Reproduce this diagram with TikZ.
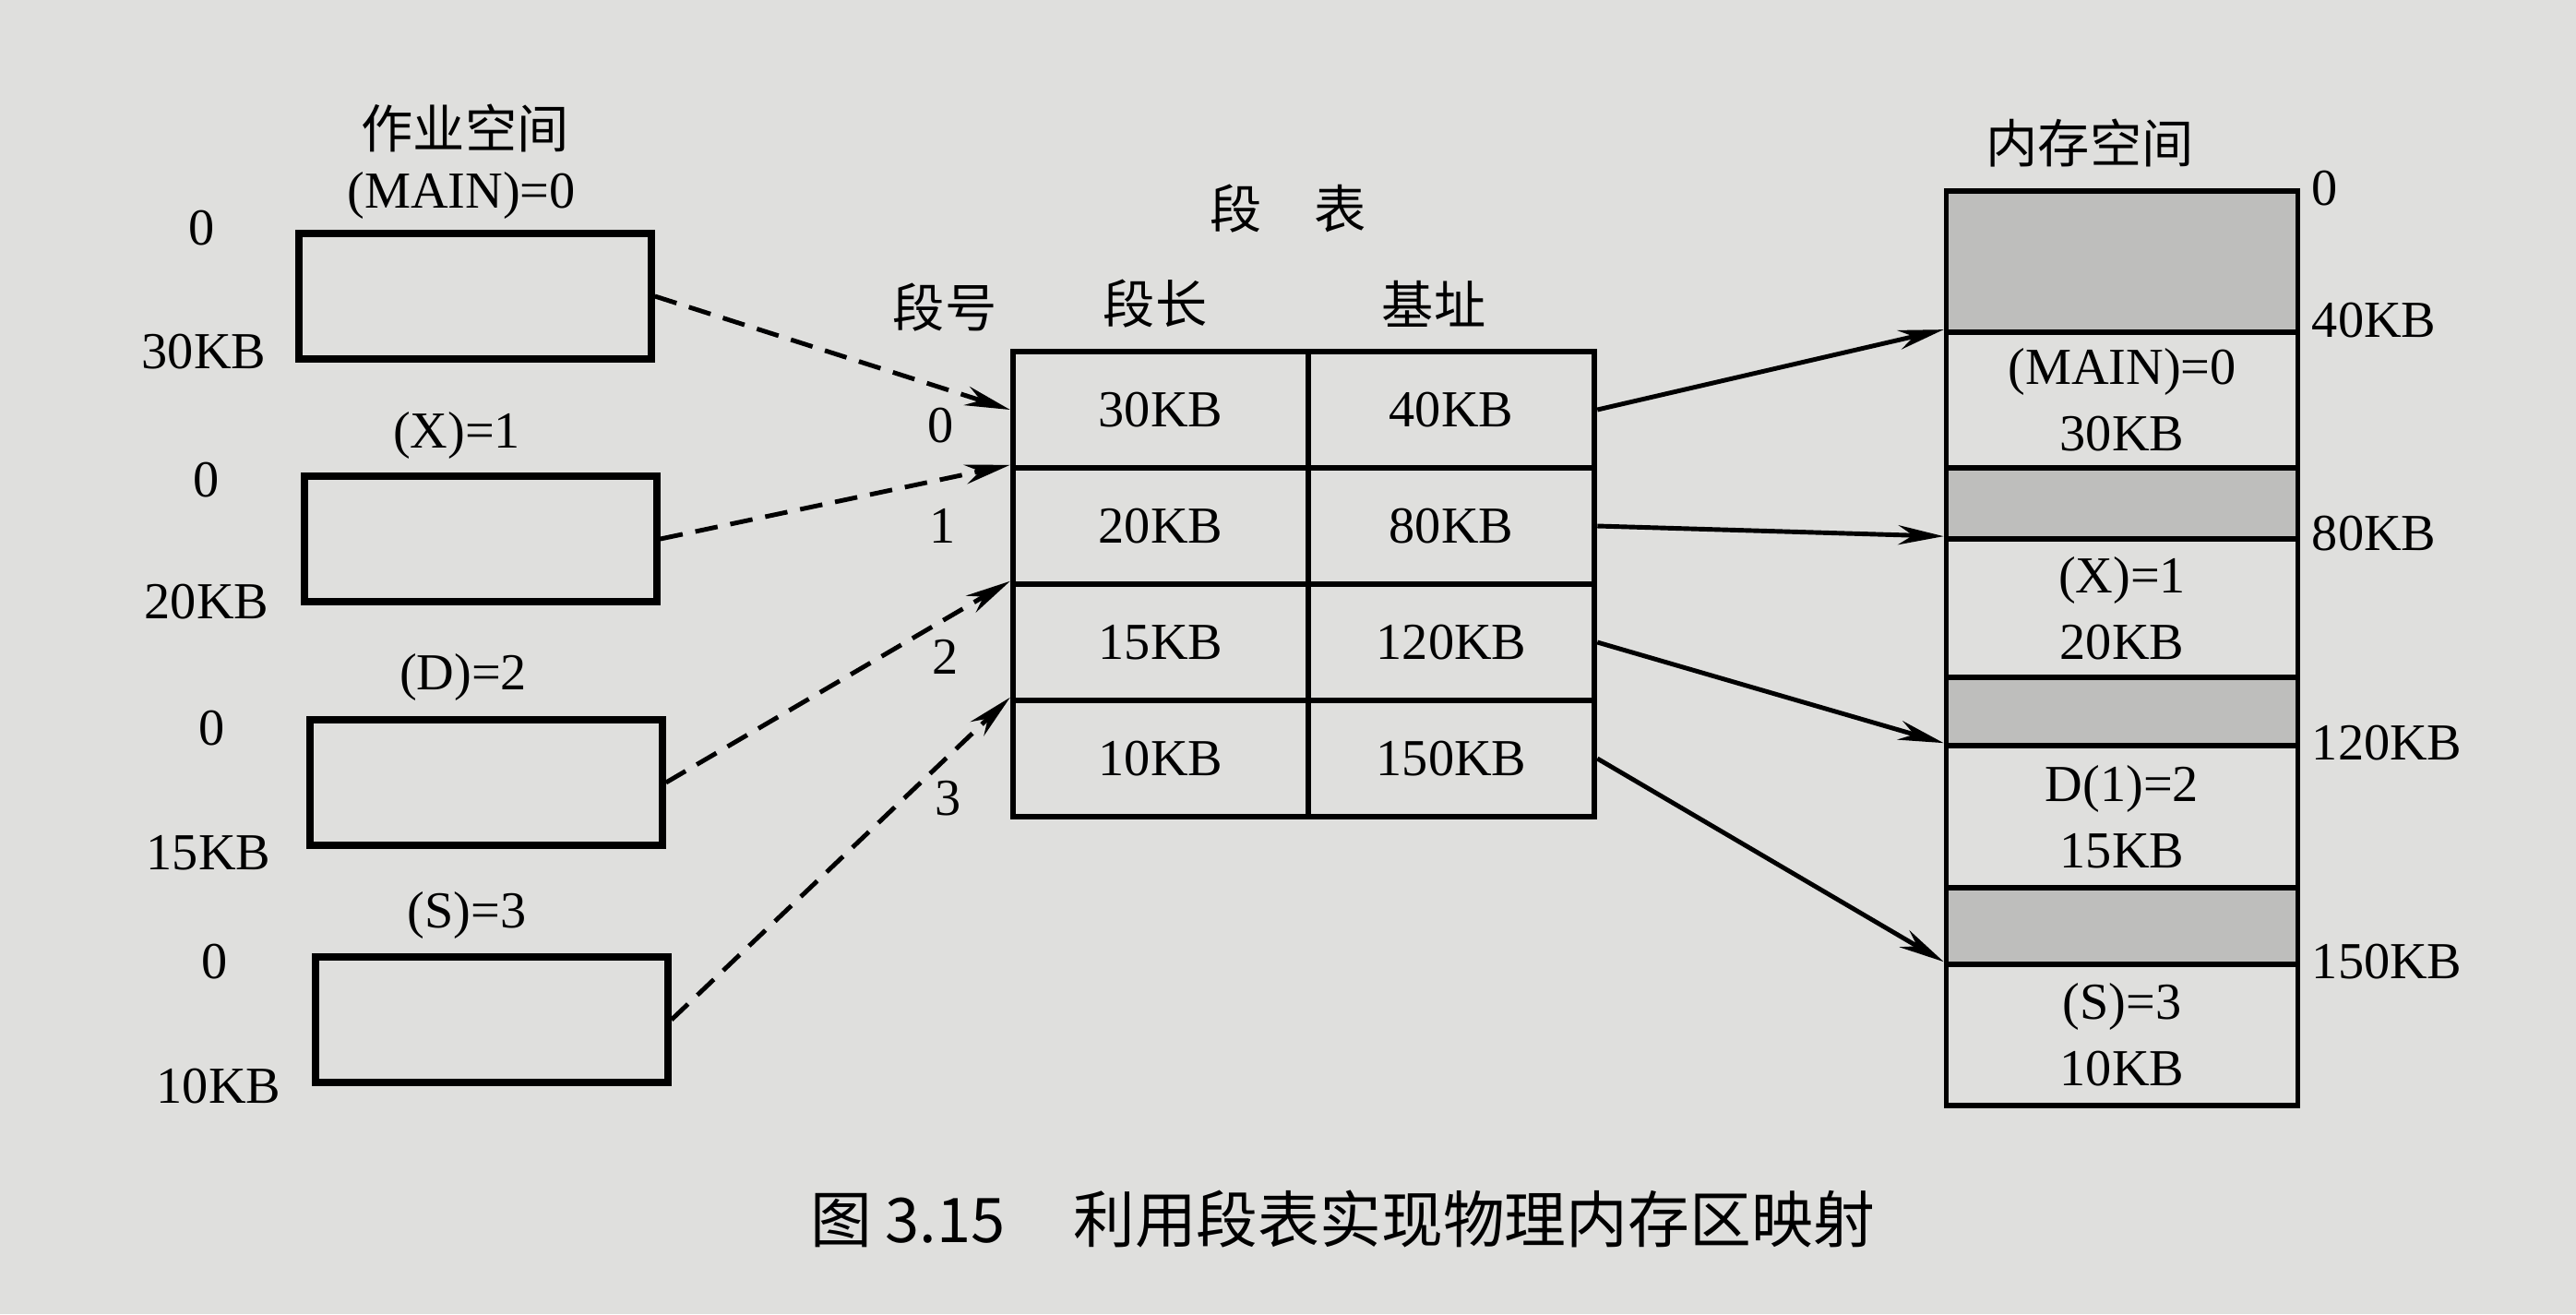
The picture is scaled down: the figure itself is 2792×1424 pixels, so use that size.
\documentclass[tikz,border=0pt]{standalone}
\usepackage{fontspec}
\setmainfont{Liberation Serif}
\newfontfamily\cjk{Noto Sans CJK SC}
\usetikzlibrary{arrows.meta}
\definecolor{paper}{RGB}{223,223,221}
\definecolor{hole}{RGB}{190,190,188}
\tikzstyle{latin}=[font=\fontsize{16}{18}\selectfont]
\tikzstyle{hanzi}=[font=\cjk\fontsize{16}{18}\selectfont]
\tikzstyle{job box}=[draw, line width=2.1pt, minimum width=3.82cm, minimum height=1.36cm, inner sep=0pt]
\tikzstyle{seg cell}=[draw, line width=1.8pt, minimum height=1.26cm, inner sep=0pt, latin]
\tikzstyle{mem block}=[draw, line width=1.6pt, minimum width=3.81cm, inner sep=0pt, align=center, font=\fontsize{16}{20.5}\selectfont]
\tikzstyle{mem hole}=[mem block, fill=hole]
\tikzstyle{seg link}=[->, line width=1.4pt, dash pattern=on 7pt off 4pt]
\tikzstyle{base link}=[->, line width=1.4pt]

\begin{document}
\begin{tikzpicture}[>={Stealth[length=14pt,width=6pt]}, x=0.01cm, y=-0.01cm]

    \fill[paper] (0,0) rectangle (2792,1424);
    \useasboundingbox (0,0) rectangle (2792,1424);

    % Job space
    \draw (504,139) node[hanzi] (jobtitle) {作业空间};
    \draw (500,212) node[latin] (jobname0) {(MAIN)=0};
    \draw (495,472) node[latin] (jobname1) {(X)=1};
    \draw (502,734) node[latin] (jobname2) {(D)=2};
    \draw (506,992) node[latin] (jobname3) {(S)=3};
    \draw (515,321) node[job box] (job0) {};
    \draw (521,584) node[job box] (job1) {};
    \draw (527,848) node[job box] (job2) {};
    \draw (533,1105) node[job box] (job3) {};
    \draw (219,247) node[latin] (jobtop0) {0};
    \draw (221,381) node[latin] (jobend0) {30KB};
    \draw (224,520) node[latin] (jobtop1) {0};
    \draw (224,652) node[latin] (jobend1) {20KB};
    \draw (230,789) node[latin] (jobtop2) {0};
    \draw (226,924) node[latin] (jobend2) {15KB};
    \draw (233,1042) node[latin] (jobtop3) {0};
    \draw (237,1177) node[latin] (jobend3) {10KB};

    % Segment table
    \draw (1396,226) node[hanzi] (segtitle) {段\hspace{1em}表};
    \draw (1024,333) node[hanzi] (headno) {段号};
    \draw (1252,329) node[hanzi] (headlen) {段长};
    \draw (1554,329) node[hanzi] (headbase) {基址};
    \draw (1258,444) node[seg cell, minimum width=3.20cm] (len0) {30KB};
    \draw (1258,570) node[seg cell, minimum width=3.20cm] (len1) {20KB};
    \draw (1258,696) node[seg cell, minimum width=3.20cm] (len2) {15KB};
    \draw (1258,822) node[seg cell, minimum width=3.20cm] (len3) {10KB};
    \draw (1573,444) node[seg cell, minimum width=3.10cm] (base0) {40KB};
    \draw (1573,570) node[seg cell, minimum width=3.10cm] (base1) {80KB};
    \draw (1573,696) node[seg cell, minimum width=3.10cm] (base2) {120KB};
    \draw (1573,822) node[seg cell, minimum width=3.10cm] (base3) {150KB};
    \draw (1020,461) node[latin] (segno0) {0};
    \draw (1022,570) node[latin] (segno1) {1};
    \draw (1025,712) node[latin] (segno2) {2};
    \draw (1028,865) node[latin] (segno3) {3};

    % Memory space
    \draw (2265,155) node[hanzi] (memtitle) {内存空间};
    \draw (2300,283.5) node[mem hole, minimum height=1.53cm] (free0) {};
    \draw (2300,433.5) node[mem block, minimum height=1.47cm] (mmain) {(MAIN)=0\\30KB};
    \draw (2300,545.5) node[mem hole, minimum height=0.77cm] (free1) {};
    \draw (2300,659) node[mem block, minimum height=1.50cm] (mx) {(X)=1\\20KB};
    \draw (2300,771) node[mem hole, minimum height=0.74cm] (free2) {};
    \draw (2300,885) node[mem block, minimum height=1.54cm] (md) {D(1)=2\\15KB};
    \draw (2300,1003.5) node[mem hole, minimum height=0.83cm] (free3) {};
    \draw (2300,1121.5) node[mem block, minimum height=1.53cm] (ms) {(S)=3\\10KB};
    \node[latin, right] (addr0) at (free0.north east) {0};
    \node[latin, right] (addr40) at ([yshift=3pt]mmain.north east) {40KB};
    \node[latin, right] (addr80) at ([yshift=1pt]mx.north east) {80KB};
    \node[latin, right] (addr120) at (md.north east) {120KB};
    \node[latin, right] (addr150) at (ms.north east) {150KB};

    % Links
    \draw[seg link] (job0.east) -- (len0.west);
    \draw[seg link] (job1.east) -- (len1.north west);
    \draw[seg link] (job2.east) -- (len2.north west);
    \draw[seg link] (job3.east) -- (len3.north west);
    \draw[base link] (base0.east) -- (mmain.north west);
    \draw[base link] (base1.east) -- (mx.north west);
    \draw[base link] (base2.east) -- (md.north west);
    \draw[base link] (base3.east) -- (ms.north west);

    % Caption
    \draw (1455,1321) node[font=\cjk\fontsize{19}{22}\selectfont] (caption) {图 3.15\hspace{1.1em}利用段表实现物理内存区映射};

\end{tikzpicture}
\end{document}
